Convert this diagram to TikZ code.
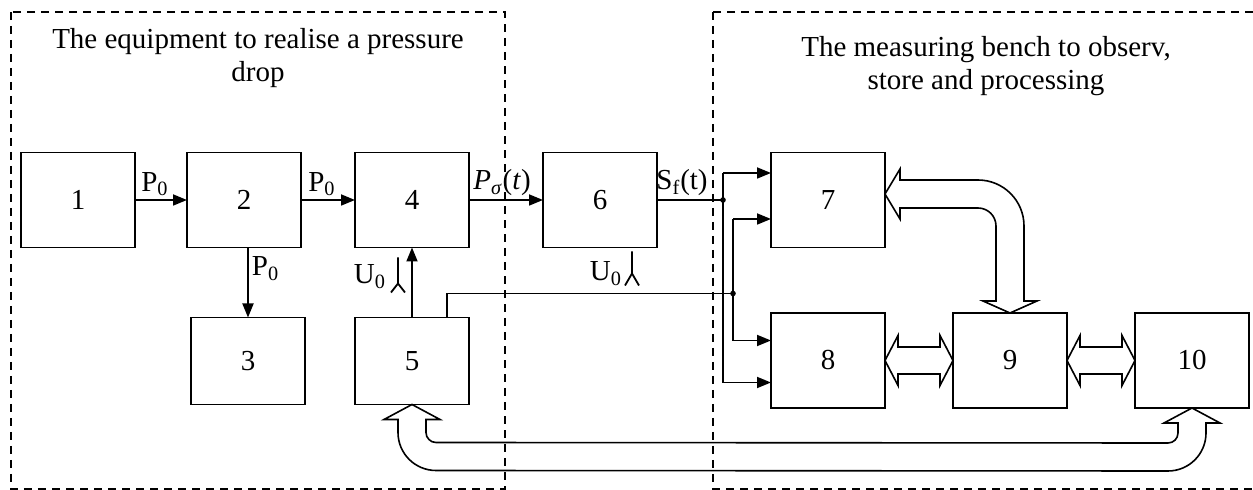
\documentclass[tikz,border=0pt]{standalone}
\usepackage{fontspec}
\setmainfont{Liberation Serif}
\usetikzlibrary{arrows.meta,positioning,calc}

\begin{document}
\begin{tikzpicture}[x=0.5pt,y=-0.5pt,line width=0.9pt,
   font=\fontsize{14.5}{16.5}\selectfont,
   box/.style={draw,minimum width=57pt,minimum height=47.5pt,inner sep=0pt,outer sep=0pt},
   lowbox/.style={box,minimum height=43.5pt},
   arr/.style={-{Triangle[length=7pt,width=5.5pt]}},
   frame/.style={dash pattern=on 4pt off 3pt,line width=0.8pt},
   block/.style={line width=0.8pt,line join=miter},
   lbl/.style={inner sep=1.5pt}]
  \useasboundingbox (0,0) rectangle (1253,490);
  % the two dashed areas
  \draw[frame] (11,12) rectangle (505,489);
  \draw[frame] (713,12) rectangle (1262,489);
  \node[align=center] (t1) at (258,58) {The equipment to realise a pressure\\drop};
  \node[align=center] (t2) at (986,66) {The measuring bench to observ,\\store and processing};
  % blocks
  \node[box] (b1) at (78,200) {1};
  \node[box,right=26pt of b1] (b2) {2};
  \node[box,right=27pt of b2] (b4) {4};
  \node[box,right=37pt of b4] (b6) {6};
  \node[box,right=57pt of b6] (b7) {7};
  \node[lowbox,below=35pt of b2,xshift=2pt] (b3) {3};
  \node[lowbox,below=35pt of b4] (b5) {5};
  \node[box,below=32.75pt of b7] (b8) {8};
  \node[box,right=34pt of b8] (b9) {9};
  \node[box,right=34pt of b9] (b10) {10};
  % pressure line
  \draw[arr] (b1) -- (b2) node[midway,above,lbl,xshift=-3pt] {P\textsubscript{0}};
  \draw[arr] (b2) -- (b4) node[midway,above,lbl,xshift=-3pt] {P\textsubscript{0}};
  \draw[arr] (b3.north |- b2.south) -- (b3) node[pos=0.3,right,lbl] {P\textsubscript{0}};
  \draw[arr] (b5) -- (b4);
  \draw[arr] (b4) -- (b6) node[midway,above,lbl,xshift=-2pt] {\textit{P}\textsubscript{\textit{σ}}(\textit{t})};
  \draw (b6.east) -- ++(66,0) coordinate (j1) node[midway,above,lbl,xshift=-4pt] {S\textsubscript{f}(t)};
  % supply U0
  \draw ($(b4.south)+(-14,10)$) -- ++(0,26) coordinate (s4) ++(-7,9) -- (s4) -- ++(7,9);
  \node[lbl] (u4) at ($(b4.south)+(-42,29)$) {U\textsubscript{0}};
  \draw ($(b6.south)+(32,4)$) -- ++(0,22) coordinate (s6) ++(-7,12) -- (s6) -- ++(7,12);
  \node[lbl] (u6) at ($(b6.south)+(6,26)$) {U\textsubscript{0}};
  % inputs of 7 and 8
  \coordinate (i7a) at ($(b7.west)+(0,-27)$);
  \coordinate (i7b) at ($(b7.west)+(0,19)$);
  \coordinate (i8a) at ($(b8.west)+(0,-20)$);
  \coordinate (i8b) at ($(b8.west)+(0,22)$);
  \coordinate (j2) at ($(j1)+(10,0)$);
  \draw ($(b5.north east)+(-22,0)$) -- ++(0,-24) coordinate (k5) -- (k5 -| j2);
  \draw[arr] (i7a -| j1) -- (i7a);
  \draw[arr] (i7a -| j1) -- (i8b -| j1) -- (i8b);
  \draw[arr] (i7b -| j2) -- (i7b);
  \draw[arr] (i7b -| j2) -- (i8a -| j2) -- (i8a);
  \fill (j1) circle (1.4pt) (k5 -| j2) circle (1.4pt);
  % wide arrows
  \draw[block] ($(b7.east)+(0,-6)$) -- ++(15,-25) -- ++(0,11) -- ++(78,0)
     arc[start angle=90,end angle=0,radius=23pt] -- ($(b9.north)+(14,-12)$) -- ++(13,0) -- (b9.north)
     -- ++(-27,-12) -- ++(13,0) -- ++(0,-75) arc[start angle=0,end angle=90,radius=9pt]
     -- ++(-78,0) -- ++(0,11) -- cycle;
  \foreach \a/\b in {b8/b9,b9/b10}
    \draw[block] (\a.east) -- ++(13,-25) -- ++(0,11.5) -- ($(\b.west)+(-13,-13.5)$) -- ++(0,-11.5)
      -- (\b.west) -- ++(-13,25) -- ++(0,-11.5) -- ($(\a.east)+(13,13.5)$) -- ++(0,11.5) -- cycle;
  \draw[block] (b5.south) -- ++(28,15) -- ++(-14,0) -- ++(0,13) arc[start angle=180,end angle=270,radius=5pt]
     -- ($(b10.south)+(-24,35)$) arc[start angle=270,end angle=360,radius=5pt] -- ($(b10.south)+(-14,15)$)
     -- ++(-14,0) -- (b10.south) -- ++(28,15) -- ++(-14,0) -- ++(0,10) arc[start angle=0,end angle=-90,radius=19pt]
     -- ($(b5.south)+(24,66)$) arc[start angle=270,end angle=180,radius=19pt] -- ($(b5.south)+(-14,15)$)
     -- ++(-14,0) -- cycle;
\end{tikzpicture}
\end{document}
